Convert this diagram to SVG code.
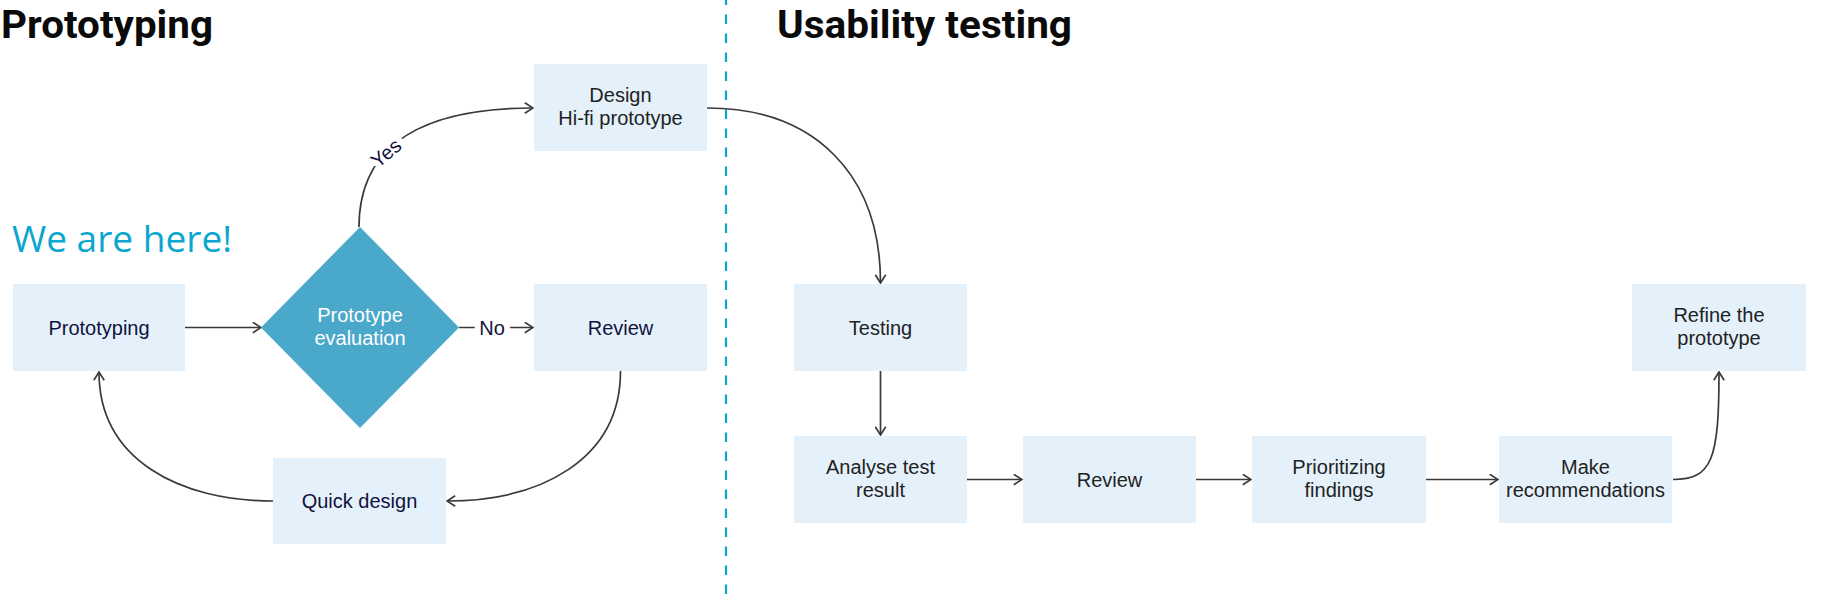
<svg xmlns="http://www.w3.org/2000/svg" width="1835" height="614" viewBox="0 0 1835 614">
<style>
.box{fill:#E4F1FB;}
.lbl{font-family:"Liberation Sans",Arial,sans-serif;font-size:20px;text-anchor:middle;}
.navy{fill:#12123F;}
.gray{fill:#222222;}
.edge{fill:none;stroke:#3a3a3a;stroke-width:1.7;marker-end:url(#arr);}
.halo{paint-order:stroke;stroke:#ffffff;stroke-width:12px;stroke-linejoin:round;}
.title{font-family:Roboto,"Liberation Sans",sans-serif;font-weight:700;font-size:38px;fill:#0a0a0a;}
</style>
<defs>
<marker id="arr" viewBox="0 0 10 12" refX="9.2" refY="6" markerWidth="10" markerHeight="12" markerUnits="userSpaceOnUse" orient="auto">
<path d="M1,0.8 L9.2,6 L1,11.2" fill="none" stroke="#3a3a3a" stroke-width="1.7"/>
</marker>
</defs>
<rect width="1835" height="614" fill="#ffffff"/>

<g id="titles">
<text class="title" x="1" y="37.5" textLength="212" lengthAdjust="spacingAndGlyphs">Prototyping</text>
<text class="title" x="777" y="37.5" textLength="295" lengthAdjust="spacingAndGlyphs">Usability testing</text>
<text x="12" y="252" font-family="'Open Sans','Noto Sans',sans-serif" font-size="37" fill="#0AA6CF" textLength="220" lengthAdjust="spacingAndGlyphs">We are here!</text>
</g>

<line id="divider" x1="726" y1="0" x2="726" y2="597" stroke="#0BA6CD" stroke-width="2.2" stroke-dasharray="9.5 9.5" stroke-dashoffset="4.5"/>

<g id="connectors">
<path class="edge" d="M185,327.5 L261,327.5"/>
<path class="edge" d="M459,327.5 L533,327.5"/>
<path class="edge" d="M359,227 C359,140 430,108 533,108"/>
<path class="edge" d="M707,108 C815,108 880.5,175 880.5,283"/>
<path class="edge" d="M620.5,371 C620.5,460 540,501 447,501"/>
<path class="edge" d="M273,501 C180,501 99,460 99,372"/>
<path class="edge" d="M880.5,371 L880.5,435"/>
<path class="edge" d="M967,479.5 L1022,479.5"/>
<path class="edge" d="M1196,479.5 L1251,479.5"/>
<path class="edge" d="M1426,479.5 L1498,479.5"/>
<path class="edge" d="M1673,479.5 C1712,479.5 1719,460 1719,372"/>
<text class="lbl navy halo" x="492" y="334.5">No</text>
<text class="lbl navy halo" x="0" y="0" transform="translate(386,153) rotate(-40)" dy="7">Yes</text>
</g>

<g id="n-prototyping">
<rect class="box" x="13" y="284" width="172" height="87"/>
<text class="lbl navy" x="99" y="334.5">Prototyping</text>
</g>
<g id="n-evaluation">
<polygon points="360,227 459,327.5 360,428 261,327.5" fill="#4AA8CA"/>
<text class="lbl" fill="#ffffff" x="360" y="321.5">Prototype</text>
<text class="lbl" fill="#ffffff" x="360" y="344.5">evaluation</text>
</g>
<g id="n-design">
<rect class="box" x="534" y="64" width="173" height="87"/>
<text class="lbl gray" x="620.5" y="101.5">Design</text>
<text class="lbl gray" x="620.5" y="124.5">Hi-fi prototype</text>
</g>
<g id="n-review1">
<rect class="box" x="534" y="284" width="173" height="87"/>
<text class="lbl navy" x="620.5" y="334.5">Review</text>
</g>
<g id="n-quick">
<rect class="box" x="273" y="458" width="173" height="86"/>
<text class="lbl navy" x="359.5" y="508">Quick design</text>
</g>
<g id="n-testing">
<rect class="box" x="794" y="284" width="173" height="87"/>
<text class="lbl gray" x="880.5" y="334.5">Testing</text>
</g>
<g id="n-analyse">
<rect class="box" x="794" y="436" width="173" height="87"/>
<text class="lbl gray" x="880.5" y="473.5">Analyse test</text>
<text class="lbl gray" x="880.5" y="496.5">result</text>
</g>
<g id="n-review2">
<rect class="box" x="1023" y="436" width="173" height="87"/>
<text class="lbl gray" x="1109.5" y="486.5">Review</text>
</g>
<g id="n-prioritizing">
<rect class="box" x="1252" y="436" width="174" height="87"/>
<text class="lbl gray" x="1339" y="473.5">Prioritizing</text>
<text class="lbl gray" x="1339" y="496.5">findings</text>
</g>
<g id="n-make">
<rect class="box" x="1499" y="436" width="173" height="87"/>
<text class="lbl gray" x="1585.5" y="473.5">Make</text>
<text class="lbl gray" x="1585.5" y="496.5">recommendations</text>
</g>
<g id="n-refine">
<rect class="box" x="1632" y="284" width="174" height="87"/>
<text class="lbl gray" x="1719" y="321.5">Refine the</text>
<text class="lbl gray" x="1719" y="344.5">prototype</text>
</g>
</svg>
